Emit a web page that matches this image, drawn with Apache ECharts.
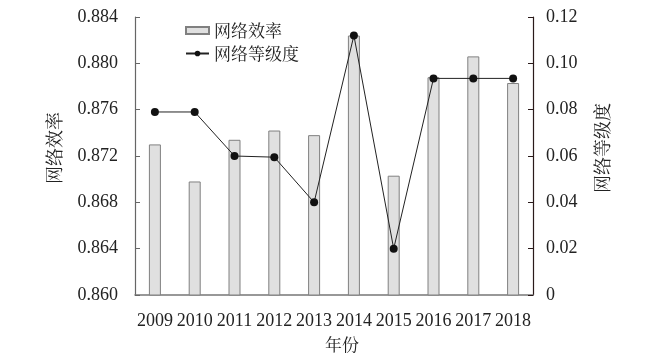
<!DOCTYPE html>
<html>
<head>
<meta charset="utf-8">
<script src="https://cdn.jsdelivr.net/npm/echarts@6/dist/echarts.min.js"></script>
<style>html,body{margin:0;padding:0;background:#fff}#c{width:648px;height:358px}</style>
</head>
<body>
<div id="c"></div>
<script>
const years = ['2009','2010','2011','2012','2013','2014','2015','2016','2017','2018'];
const efficiency = [0.8730, 0.8698, 0.8734, 0.8742, 0.8738, 0.8824, 0.8703, 0.8788, 0.8806, 0.8783];
const grade = [0.079, 0.079, 0.060, 0.0595, 0.040, 0.112, 0.020, 0.0935, 0.0935, 0.0935];
const leftAxis = {min: 0.860, max: 0.884, interval: 0.004};
const rightAxis = {min: 0, max: 0.12, interval: 0.02};

const serif = '"Liberation Serif", "Times New Roman", serif';
const cjk = '"Noto Serif CJK SC", "Noto Sans CJK SC", sans-serif';

const chart = echarts.init(document.getElementById('c'));
chart.setOption({
  animation: false,
  backgroundColor: '#fff',
  grid: {left: 135, right: 115, top: 17, bottom: 63},
  legend: {
    orient: 'vertical', left: 180, top: 17,
    itemWidth: 23, itemHeight: 7, itemGap: 6,
    textStyle: {fontFamily: cjk, fontSize: 17, color: '#222'},
    data: [
      {name: '网络效率', icon: 'rect'},
      {name: '网络等级度'}
    ]
  },
  xAxis: {
    type: 'category', data: years,
    name: '年份', nameLocation: 'middle', nameGap: 41,
    nameTextStyle: {fontFamily: cjk, fontSize: 17, color: '#222', padding: [0, 0, 0, 16]},
    axisLine: {lineStyle: {color: '#777', width: 1.5}},
    axisTick: {show: false},
    axisLabel: {fontFamily: serif, fontSize: 18, color: '#222', margin: 17, interval: 0}
  },
  yAxis: [
    {
      type: 'value', min: leftAxis.min, max: leftAxis.max, interval: leftAxis.interval,
      name: '网络效率', nameLocation: 'middle', nameGap: 72,
      nameTextStyle: {fontFamily: cjk, fontSize: 18, color: '#222', padding: [0, 0, 0, 16]},
      splitLine: {show: false},
      axisLine: {show: true, lineStyle: {color: '#666', width: 1.2}},
      axisTick: {show: true, inside: true, length: 5, lineStyle: {color: '#666'}},
      axisLabel: {fontFamily: serif, fontSize: 18, color: '#222', margin: 17,
        formatter: v => v.toFixed(3)}
    },
    {
      type: 'value', min: rightAxis.min, max: rightAxis.max, interval: rightAxis.interval,
      name: '网络等级度', nameLocation: 'middle', nameGap: 60, nameRotate: 90,
      nameTextStyle: {fontFamily: cjk, fontSize: 18, color: '#222', padding: [0, 0, 0, 16]},
      splitLine: {show: false},
      axisLine: {show: true, lineStyle: {color: '#2a1a1a', width: 1.2}},
      axisTick: {show: true, inside: true, length: 5, lineStyle: {color: '#2a1a1a'}},
      axisLabel: {fontFamily: serif, fontSize: 18, color: '#222', margin: 13,
        formatter: v => v === 0 ? '0' : v.toFixed(2)}
    }
  ],
  series: [
    {
      name: '网络效率', type: 'bar', yAxisIndex: 0, data: efficiency,
      barWidth: 12,
      itemStyle: {color: '#e0e0e0', borderColor: '#808080', borderWidth: 1}
    },
    {
      name: '网络等级度', type: 'line', yAxisIndex: 1, data: grade,
      symbol: 'circle', symbolSize: 8,
      lineStyle: {color: '#222', width: 1},
      itemStyle: {color: '#111'}
    }
  ]
});
</script>
</body>
</html>
